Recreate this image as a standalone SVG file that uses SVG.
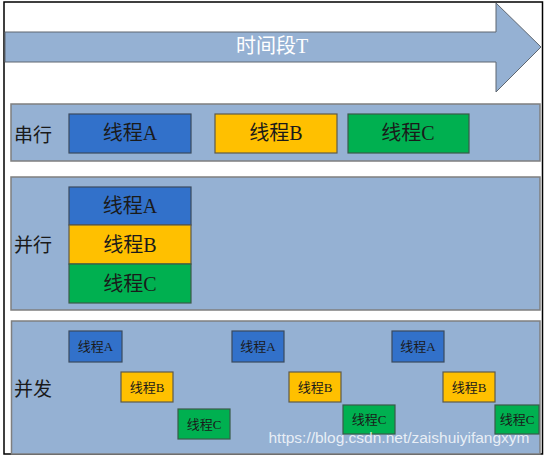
<svg xmlns="http://www.w3.org/2000/svg" width="553" height="460" viewBox="0 0 553 460">
<style>
.panel{fill:#95B1D3;stroke:#7F7F7F;stroke-width:1.5}
.a{fill:#3271CA;stroke:#3A4A5E;stroke-width:1.2}
.b{fill:#FFC000;stroke:#5E5A4A;stroke-width:1.2}
.c{fill:#00B050;stroke:#3A5A48;stroke-width:1.2}
text{font-family:"Liberation Serif","Noto Sans CJK SC",serif;fill:#1A1A1A;text-anchor:middle;dominant-baseline:central}
.big{font-size:20px}
.small{font-size:13px}
.lbl{font-family:"Noto Sans CJK SC",sans-serif;font-size:19px;text-anchor:start}
</style>
<rect x="0" y="0" width="553" height="460" fill="#fff"/>
<rect x="4" y="2" width="538.5" height="452" fill="none" stroke="#000" stroke-width="1.5"/>
<g id="timeline">
<polygon points="5,32 496,32 496,3 541,47 496,92 496,62 5,62" fill="#95B1D3" stroke="#5F6770" stroke-width="1"/>
<text x="272" y="46" style="fill:#fff;font-size:20px">时间段T</text>
</g>
<g id="serial">
<rect class="panel" x="11" y="104" width="529" height="57"/>
<text class="lbl" x="14" y="133">串行</text>
</g>
<g id="serialA"><rect class="a" x="69" y="114" width="122" height="39"/><text class="big" x="130" y="133">线程A</text></g>
<g id="serialB"><rect class="b" x="215" y="114" width="122" height="39"/><text class="big" x="276" y="133">线程B</text></g>
<g id="serialC"><rect class="c" x="348" y="114" width="121" height="39"/><text class="big" x="408" y="133">线程C</text></g>
<g id="parallel">
<rect class="panel" x="11" y="177" width="529" height="133"/>
<text class="lbl" x="14" y="243">并行</text>
</g>
<g id="parallelA"><rect class="a" x="69" y="187" width="122" height="38"/><text class="big" x="130" y="206">线程A</text></g>
<g id="parallelB"><rect class="b" x="69" y="225" width="122" height="39"/><text class="big" x="130" y="245">线程B</text></g>
<g id="parallelC"><rect class="c" x="69" y="264" width="122" height="39"/><text class="big" x="130" y="284">线程C</text></g>
<g id="concurrent">
<rect class="panel" x="11.5" y="321" width="528.5" height="133"/>
<text class="lbl" x="14" y="387">并发</text>
</g>
<g id="concA1"><rect class="a" x="69" y="331" width="53" height="31"/><text class="small" x="95.5" y="346.5">线程A</text></g>
<g id="concB1"><rect class="b" x="121" y="372" width="52" height="30"/><text class="small" x="147" y="387">线程B</text></g>
<g id="concC1"><rect class="c" x="178" y="409" width="52" height="30"/><text class="small" x="204" y="424">线程C</text></g>
<g id="concA2"><rect class="a" x="232" y="331" width="52" height="31"/><text class="small" x="258" y="346.5">线程A</text></g>
<g id="concB2"><rect class="b" x="289" y="372" width="52" height="30"/><text class="small" x="315" y="387">线程B</text></g>
<g id="concC2"><rect class="c" x="343" y="405" width="52" height="29"/><text class="small" x="369" y="419.5">线程C</text></g>
<g id="concA3"><rect class="a" x="392" y="331" width="52" height="31"/><text class="small" x="418" y="346.5">线程A</text></g>
<g id="concB3"><rect class="b" x="443" y="372" width="52" height="30"/><text class="small" x="469" y="387">线程B</text></g>
<g id="concC3"><rect class="c" x="495" y="405" width="44" height="29"/><text class="small" x="517" y="419.5">线程C</text></g>
<g id="connectors"></g>
<text x="399" y="437" style="font-family:'Liberation Sans',sans-serif;font-size:15.5px;fill:#fff;fill-opacity:0.8">https://blog.csdn.net/zaishuiyifangxym</text>
</svg>
